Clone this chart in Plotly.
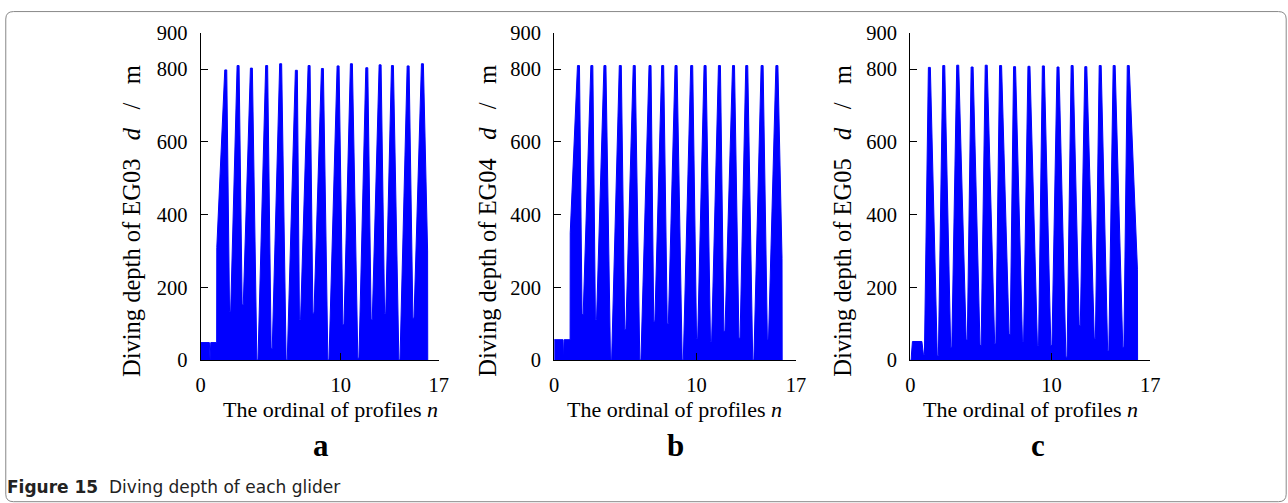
import plotly.graph_objects as go

# ---------------- data ----------------
# EG03 (panel a)
start_n_a = [0, 0.62, 0.67, 0.72, 1.14, 1.15]
start_d_a = [48, 48, 0, 48, 48, 310]
peak_n_a = [1.79, 2.67, 3.62, 4.71, 5.71, 6.83, 7.74, 8.69, 9.81, 10.76, 11.86, 12.81, 13.69, 14.81, 15.83]
peak_d_a = [798, 810, 803, 810, 815, 797, 810, 802, 809, 815, 804, 812, 810, 809, 815]
valley_n_a = [2.10, 3.00, 4.05, 5.07, 6.14, 7.09, 8.05, 9.12, 10.19, 11.26, 12.21, 13.17, 14.19, 15.19]
valley_d_a = [134, 152, 0, 32, 0, 111, 129, 0, 97, 5, 111, 129, 0, 115]
end_n_a = [16.20, 16.21]
end_d_a = [300, 0]

# EG04 (panel b)
start_n_b = [0, 0.62, 0.66, 0.70, 1.12, 1.13]
start_d_b = [56, 56, 0, 56, 56, 350]
peak_n_b = [1.71, 2.65, 3.57, 4.65, 5.63, 6.74, 7.63, 8.57, 9.67, 10.61, 11.62, 12.61, 13.54, 14.62, 15.66]
peak_d_b = [810, 810, 810, 810, 810, 810, 810, 810, 810, 810, 810, 810, 810, 810, 810]
valley_n_b = [2.00, 2.94, 4.00, 5.00, 6.06, 7.04, 7.99, 9.04, 10.05, 11.03, 11.97, 13.03, 14.00, 15.03]
valley_d_b = [125, 111, 0, 84, 0, 107, 100, 0, 60, 51, 79, 60, 0, 55]
end_n_b = [16.02, 16.03]
end_d_b = [280, 0]

# EG05 (panel c)
start_n_c = [0, 0.05, 0.15, 0.82, 0.93, 1.00]
start_d_c = [0, 0, 51, 51, 15, 15]
peak_n_c = [1.35, 2.37, 3.36, 4.38, 5.38, 6.40, 7.39, 8.41, 9.43, 10.47, 11.47, 12.44, 13.46, 14.45, 15.45]
peak_d_c = [805, 810, 811, 806, 811, 810, 807, 808, 809, 806, 810, 807, 810, 810, 810]
valley_n_c = [1.95, 2.90, 4.00, 4.98, 6.02, 7.04, 7.99, 9.05, 10.00, 11.07, 12.01, 13.08, 14.03, 15.10]
valley_d_c = [12, 35, 55, 40, 45, 70, 50, 40, 40, 8, 95, 60, 25, 35]
end_n_c = [16.10, 16.11]
end_d_c = [250, 0]

x_ticks = [0, 10, 17]
y_ticks = [0, 200, 400, 600, 800, 900]
glider_names = ["EG03", "EG04", "EG05"]
panel_letters = ["a", "b", "c"]

# ---------------- layout constants ----------------
# observed mapping page -> photographed picture: pic = A + S * page
SX, SY = 0.988, 0.951
AX, AY = -3.5, 4.0
BODY = 8                      # default page margin around the plot div
W, H = 1300, 517
VALLEY_W = 0.08
PEAK_W = 0.14
BLUE = "#0000ff"
SERIF = "Liberation Serif, Times New Roman, serif"
SP = "&nbsp;"


def envelope(sn, sd, pn, pd, vn, vd, en, ed):
    xs, ys = list(sn), list(sd)
    for i in range(len(pn)):
        xs += [pn[i] - PEAK_W / 2, pn[i] + PEAK_W / 2]
        ys += [pd[i], pd[i]]
        if i < len(vn):
            xs += [vn[i] - VALLEY_W / 2, vn[i] + VALLEY_W / 2]
            ys += [vd[i], vd[i]]
    xs += list(en); ys += list(ed)
    return xs, ys


series = [
    envelope(start_n_a, start_d_a, peak_n_a, peak_d_a, valley_n_a, valley_d_a, end_n_a, end_d_a),
    envelope(start_n_b, start_d_b, peak_n_b, peak_d_b, valley_n_b, valley_d_b, end_n_b, end_d_b),
    envelope(start_n_c, start_d_c, peak_n_c, peak_d_c, valley_n_c, valley_d_c, end_n_c, end_d_c),
]

# target picture-pixel geometry (as in the reference)
x_px = [(200, 438), (553.3, 795), (909.3, 1149)]
y_top, y_bot = 33.3, 358.3
ytitle_x = [131.5, 487, 842]
xtitle_x = [330, 674, 1029.5]
letter_x = [320, 675, 1037]


def px(x):
    f = (x - AX) / SX - BODY
    return min(max(f / W, 0), 1)


def py(y):
    f = (y - AY) / SY - BODY
    return min(max(1 - f / H, 0), 1)


fig = go.Figure()
annotations = []
for i, (xs, ys) in enumerate(series):
    sfx = "" if i == 0 else str(i + 1)
    fig.add_trace(go.Scatter(
        x=xs, y=ys, mode="lines", fill="tozeroy",
        line=dict(color=BLUE, width=1), fillcolor=BLUE,
        xaxis="x" + sfx, yaxis="y" + sfx, showlegend=False, hoverinfo="skip"))
    axis_common = dict(showline=True, linecolor="black", linewidth=1.3,
                       ticks="inside", ticklen=7, tickcolor="black", tickwidth=1.2,
                       showgrid=False, zeroline=False,
                       tickfont=dict(family=SERIF, size=20.5, color="black"))
    fig.update_layout(**{
        "xaxis" + sfx: dict(axis_common, domain=[px(x_px[i][0]), px(x_px[i][1])],
                            range=[0, 17], tickvals=x_ticks, anchor="y" + sfx,
                            ticklabelstandoff=6),
        "yaxis" + sfx: dict(axis_common, domain=[py(y_bot), py(y_top)],
                            range=[0, 900], tickvals=y_ticks, anchor="x" + sfx,
                            ticklabelstandoff=8),
    })
    gap = SP * 3
    annotations.append(dict(
        text="Diving depth of " + glider_names[i] + gap + "<i>d</i>" + gap + "/" + gap + "m",
        x=px(ytitle_x[i]), y=py(220), xref="paper", yref="paper",
        textangle=-90, showarrow=False, xanchor="center", yanchor="middle",
        font=dict(family=SERIF, size=24.5, color="black")))
    annotations.append(dict(
        text="The ordinal of profiles <i>n</i>",
        x=px(xtitle_x[i]), y=py(407), xref="paper", yref="paper",
        showarrow=False, xanchor="center", yanchor="middle",
        font=dict(family=SERIF, size=22, color="black")))
    annotations.append(dict(
        text="<b>" + panel_letters[i] + "</b>",
        x=px(letter_x[i]), y=py(443), xref="paper", yref="paper",
        showarrow=False, xanchor="center", yanchor="middle",
        font=dict(family=SERIF, size=31, color="black")))

annotations.append(dict(
    text="<b>Figure 15</b>" + SP * 2 + "Diving depth of each glider",
    x=px(3), y=py(484.5), xref="paper", yref="paper",
    showarrow=False, xanchor="left", yanchor="middle",
    font=dict(family="DejaVu Sans, Noto Sans, sans-serif", size=17, color="#222222")))

# rounded outer frame (clamped to the drawable area)
fx0, fy0, fx1, fy1, r = px(3), py(5), px(1285), py(499), 0.006
fx0 = max(fx0, 0.0006)
fy0 = min(fy0, 1 - 0.6 / H)
ry = r * W / H
path = (f"M {fx0 + r},{fy0} L {fx1 - r},{fy0} Q {fx1},{fy0} {fx1},{fy0 - ry} "
        f"L {fx1},{fy1 + ry} Q {fx1},{fy1} {fx1 - r},{fy1} "
        f"L {fx0 + r},{fy1} Q {fx0},{fy1} {fx0},{fy1 + ry} "
        f"L {fx0},{fy0 - ry} Q {fx0},{fy0} {fx0 + r},{fy0} Z")

fig.update_layout(
    width=W, height=H, margin=dict(l=0, r=0, t=0, b=0),
    paper_bgcolor="white", plot_bgcolor="white",
    annotations=annotations,
    shapes=[dict(type="path", path=path, xref="paper", yref="paper",
                 line=dict(color="#888888", width=1))],
)

fig.write_html("out.html")
